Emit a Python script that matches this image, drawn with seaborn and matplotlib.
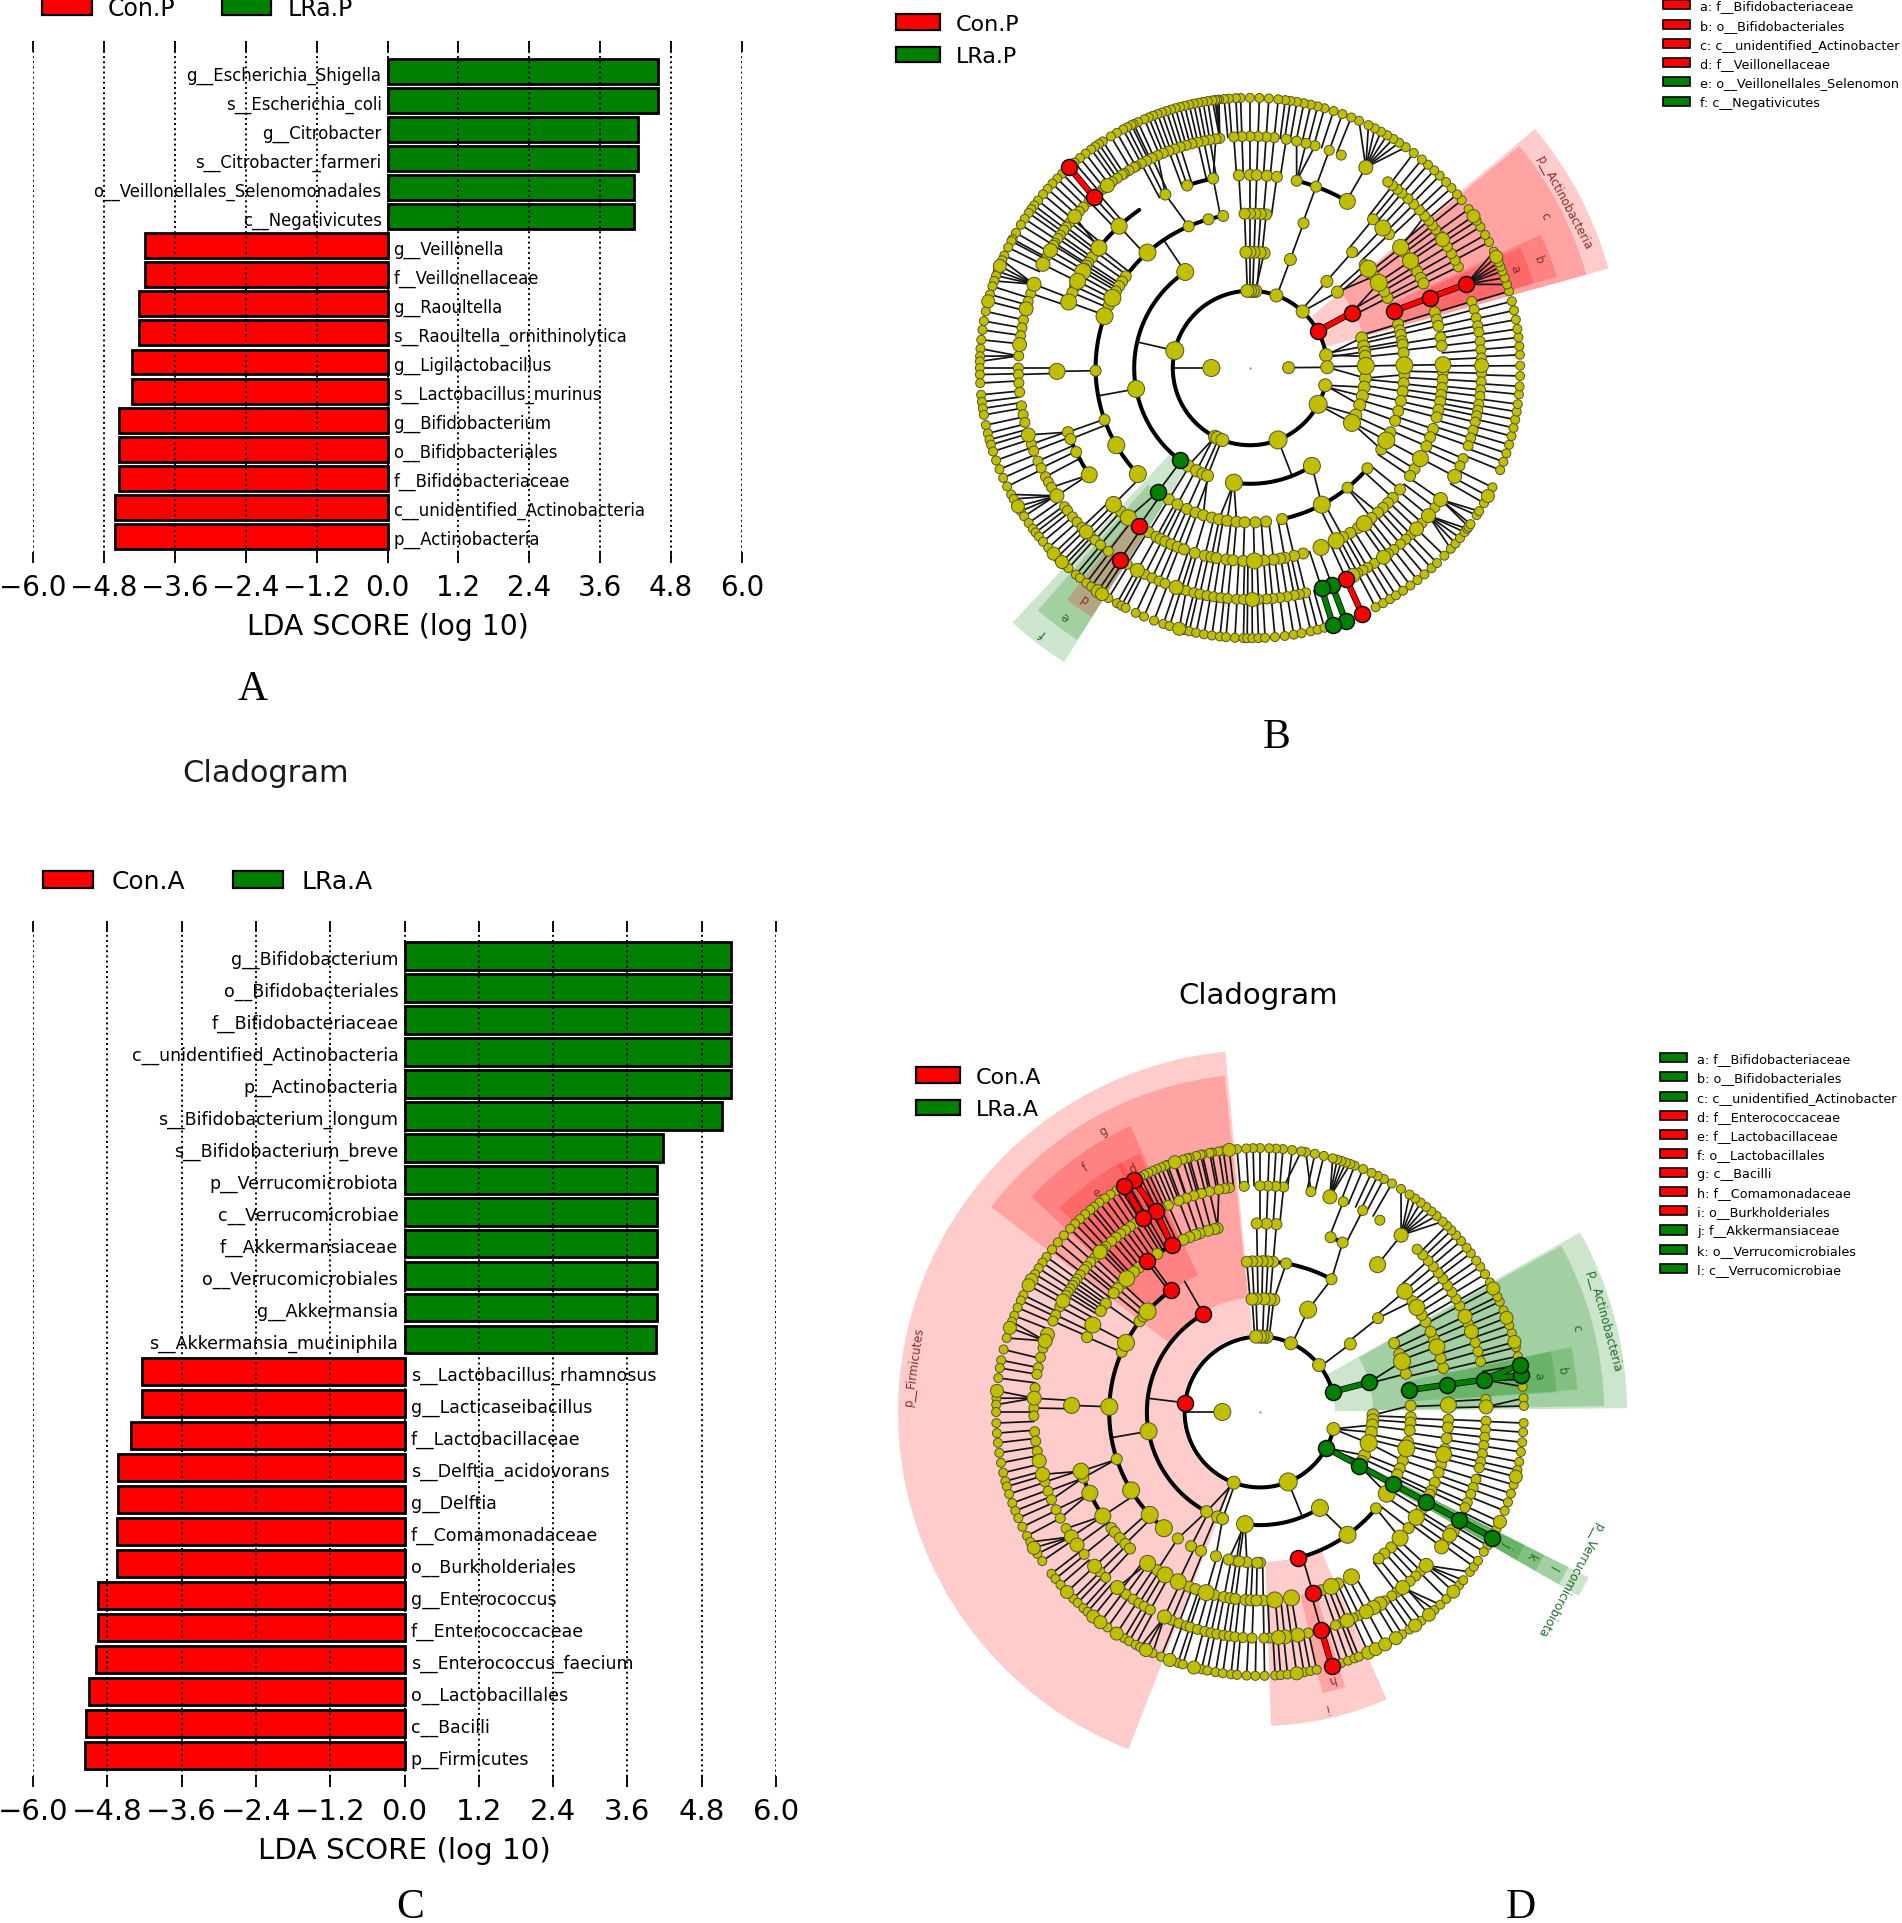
import numpy as np
import pandas as pd
import matplotlib
matplotlib.use("Agg")
import matplotlib.pyplot as plt
from matplotlib.patches import Patch
import seaborn as sns

W, H = 1902, 1924
RED = "#ff0000"
GREEN = "#008000"
NODE = "#bfbf00"

# panel A
a_taxa = ["g__Escherichia_Shigella", "s__Escherichia_coli", "g__Citrobacter", "s__Citrobacter_farmeri",
          "o__Veillonellales_Selenomonadales", "c__Negativicutes", "g__Veillonella", "f__Veillonellaceae",
          "g__Raoultella", "s__Raoultella_ornithinolytica", "g__Ligilactobacillus", "s__Lactobacillus_murinus",
          "g__Bifidobacterium", "o__Bifidobacteriales", "f__Bifidobacteriaceae",
          "c__unidentified_Actinobacteria", "p__Actinobacteria"]
a_scores = [4.57, 4.57, 4.24, 4.24, 4.18, 4.18, -4.10, -4.10, -4.21, -4.21, -4.32, -4.32,
            -4.54, -4.54, -4.54, -4.61, -4.61]

# panel C
c_taxa = ["g__Bifidobacterium", "o__Bifidobacteriales", "f__Bifidobacteriaceae",
          "c__unidentified_Actinobacteria", "p__Actinobacteria", "s__Bifidobacterium_longum",
          "s__Bifidobacterium_breve", "p__Verrucomicrobiota", "c__Verrucomicrobiae", "f__Akkermansiaceae",
          "o__Verrucomicrobiales", "g__Akkermansia", "s__Akkermansia_muciniphila", "s__Lactobacillus_rhamnosus",
          "g__Lacticaseibacillus", "f__Lactobacillaceae", "s__Delftia_acidovorans", "g__Delftia",
          "f__Comamonadaceae", "o__Burkholderiales", "g__Enterococcus", "f__Enterococcaceae",
          "s__Enterococcus_faecium", "o__Lactobacillales", "c__Bacilli", "p__Firmicutes"]
c_scores = [5.28, 5.28, 5.28, 5.27, 5.27, 5.12, 4.18, 4.07, 4.07, 4.07, 4.07, 4.07, 4.06,
            -4.24, -4.24, -4.42, -4.63, -4.63, -4.65, -4.65, -4.95, -4.95, -4.98, -5.09, -5.14, -5.16]

x_ticks = [-6.0, -4.8, -3.6, -2.4, -1.2, 0.0, 1.2, 2.4, 3.6, 4.8, 6.0]

# legends of the cladograms
b_legend = ["a: f__Bifidobacteriaceae", "b: o__Bifidobacteriales", "c: c__unidentified_Actinobacter",
            "d: f__Veillonellaceae", "e: o__Veillonellales_Selenomon", "f: c__Negativicutes"]
b_legend_colors = [RED, RED, RED, RED, GREEN, GREEN]
d_legend = ["a: f__Bifidobacteriaceae", "b: o__Bifidobacteriales", "c: c__unidentified_Actinobacter",
            "d: f__Enterococcaceae", "e: f__Lactobacillaceae", "f: o__Lactobacillales", "g: c__Bacilli",
            "h: f__Comamonadaceae", "i: o__Burkholderiales", "j: f__Akkermansiaceae",
            "k: o__Verrucomicrobiales", "l: c__Verrucomicrobiae"]
d_legend_colors = [GREEN, GREEN, GREEN, RED, RED, RED, RED, RED, RED, GREEN, GREEN, GREEN]

# cladogram B, node angles (degrees) read per ring, *_big are the larger circles
b_r1 = [0.5]
b_r1_big = [180]
b_r2 = [9.6, 0.6, -12.9, 47, 70, 86, 88, 90, 92, 243, 245, 249]
b_r2_big = [167, -28, -68.7]
b_r3 = [15.1, 10.8, 8, 5.8, -5, -9.5, -14, -18.6, -24, 48.4, 41, 69.6, 83, 85, 88, 90, 92, 237.7, 242.5, 246, 248.5]
b_r3_big = [1, -28.3, -57.7, 124, 190.4, 262]
b_r4 = [16.5, 14.1, 12.4, 10, 8.7, 5.6, -2.5, -5.6, -8.7, -12.3, -16.2, -20, -24.6, -31.8, -40.5, 27, 29.7, 36.5,
        42, 48.6, 69.7, 84, 86, 88, 90, 92, 100, 105.6, 113.4, 143.6, 146, 148, 150.3, 156, 199.6, 181, -50.8, -78,
        -84, -88, 238.3, 242, 245.9, 249.4, 252.4, 255.7, 258.4, 261.5, 265, 268]
b_r4_big = [1, -28, 33.5, 40, 131.6, 153, 160.4, 210, 223.4, -62.3]
b_r5 = [16.8, 14.5, 12.6, 9.1, 6.6, -1.2, -3.5, -5.9, -8, -10, -12.5, -14.8, -18.4, -21, -23.9, -31.5, -34, -39,
        -42.3, -44.4, -46.5, -48.5, -51, -56, -58.7, -61.2, -74, -76.8, -79.6, -81, -83, -85.8, 50.4, 43.9, 37,
        31.7, 30, 27.8, 26, 93.3, 90, 88, 85, 82, 76, 70, 101, 109, 116, 143, 145, 147, 148, 149, 151.5, 155, 157,
        199.4, 201.6, 205.8, 228, 238.3, 241, 242.4, 244, 246, 248, 250, 253.4, 256.5, 258.5, 260, 263, 265, 268]
b_r5_big = [1, -28, -53.7, -63.5, -68.4, -88.7, 46.5, 38.7, 33.7, 59.7, 132.7, 141.5, 150, 153.3, 160, 181, 213.6,
            225, 230.9]
b_r6 = [16.7, 14.6, 12.5, 10.5, 8.9, 6.6, 4.5, 2.5, -1.3, -3.4, -5.4, -7, -9, -10.5, -11.9, -13.5, -15.6, -17.6,
        -19.6, -23, -25, -37, -42, -46, -47.7, -49.5, -51.6, -53.3, -57.5, -59.5, -60.8, -62.3, -76.1, -77.7, -79,
        -80.8, -82.6, -84.4, -85.9, -87.9, -90.6, 25.9, 27.7, 29.6, 31.6, 35, 36.7, 38, 39.5, 41, 43, 45, 47, 49,
        50.5, 52, 53.5, 66.8, 70, 73.7, 76, 78.4, 81, 84, 86, 88, 90, 92, 94, 97.5, 98.5, 100, 101.5, 103, 104.5, 106,
        107.5, 109, 110.5, 112, 113.5, 115, 116.5, 118, 119.5, 120, 121.5, 122.9, 123.5, 125, 126.5, 129.5, 131, 134,
        136, 137.5, 140, 141, 142.5, 143.5, 145, 146, 147.4, 148, 151, 161.2, 163.3, 168, 170, 172, 177, 180, 181.6,
        183.7, 186, 189.4, 191.6, 193.6, 199.2, 201, 203.7, 205.6, 208, 209.5, 211, 216.8, 218, 220, 221.7, 223.5,
        226.5, 228, 229.8, 232.3, 238, 243, 245, 246.9, 248.5, 252.8, 254, 256, 257.5, 259.3, 261, 262.8, 264.5,
        266.7, 268.4]
b_r6_big = [0.6, -27.9, -34.6, -39.6, -44, -54.8, -63.6, -89.4, 33.7, 60, 128, 139.2, 149.5, 153.4, 158.8, 165.2,
            174.2, 196.8, 213.5, 225, 240.9, 251.4]
b_r7 = [14.3, 16.5, 18, 19.5, 21, 22, 23, 25.5, 27.8, 29.5, 31.5, 33, 36, 38.4, 40, 41.8, 43.5, 45.4, 47, 48.8, 50.5,
        52.7, 54.8, 56.5, 58, 59.5, 61, 62.5, 64, 66.2, 68, 70, 72, 74, 75.5, 77, 78.5, 80, 81.4, 82.5, 84, 86, 88,
        90, 92, 93, 94.5, 95.5, 96.6, 97, 97.4, 98, 99, 100, 101, 102, 103, 104, 105, 106, 107, 108, 109, 110, 111,
        112, 113, 114.5, 115.5, 116, 117, 118, 119.5, 121, 123, 124, 125, 126, 127.5, 129, 130.5, 134, 135.5, 137,
        138.5, 140, 141.7, 143, 144, 145, 146.5, 148, 150, 151.5, 152, 153.5, 155.4, 156.5, 159, 160, 161.2, 162.4,
        164.2, 167.9, 170, 171.9, 174, 175.9, 177.5, 178.6, 180, 181.4, 183.2, 185.7, 187.2, 188.6, 190, 192.2, 194,
        195.4, 196.5, 198, 200, 202, 204, 206, 207.9, 209, 212, 213.3, 215, 216.5, 217.5, 218.6, 220, 221.7, 224.5,
        226.8, 227.8, 229.9, 231, 232.7, 234, 238.4, 240.5, 241.6, 242.6, 245, 246.9, 249.2, 251.3, 252.7, 256, 257,
        258.5, 260.2, 261.9, 263.6, 264.9, 266.8, 268.6, 269.4, 270.5, 271.8, 273.2, 275.3, 277.4, 279.3, 281, 283,
        284.5, 286, -62.3, -60.5, -58.8, -57.3, -55.5, -53.6, -51.7, -49.8, -47.8, -46.2, -44, -42, -40.5, -39, -37.4,
        -36.5, -36, -35.3, -33, -32, -30, -26.2, -22.2, -20.3, -18.4, -16.5, -14.6, -12.8, -11, -9.3, -7.7, -5.6,
        -3.9, -1.7, 0.5, 2.8, 4.6, 6.5, 8.3, 10.3, 12.3]
b_r7_big = [24.3, 34.2, 157.8, 165.7, 210.8, 223.4, 225.9, 235.7, 236.8, 254.8, -28.3]

# cladogram B, coloured clades
b_marked = [(2, 28.6, RED), (3, 28.5, RED), (4, 21.6, RED), (5, 21.4, RED), (6, 21.2, RED),
            (3, 232.6, GREEN), (4, 233.4, GREEN), (5, 234.9, RED), (6, 235.9, RED),
            (6, 132.4, RED), (7, 132, RED), (6, -65.5, RED), (7, -65.5, RED),
            (6, -69.3, GREEN), (7, -69.3, GREEN), (6, -72, GREEN), (7, -72.1, GREEN)]
b_thick = [(2, 28.6, 3, 28.5, RED), (4, 21.6, 5, 21.4, RED), (5, 21.4, 6, 21.2, RED), (6, 132.4, 7, 132, RED),
           (6, -65.5, 7, -65.5, RED), (6, -69.3, 7, -69.3, GREEN), (6, -72, 7, -72.1, GREEN)]
b_arcs = [(2, 9.6, 92), (2, 92, 243), (2, -111, -13), (3, 124, 232.6), (3, -98, -57.7), (4, 100, 223.4),
          (4, -78, -40.5), (5, 125, 141.5), (5, 201.6, 213.6), (5, 100, 110), (5, 60, 76)]
b_spokes = [(1, 180), (2, 167), (3, 124), (3, 190.4), (2, -68.7)]
# ring 6 parent angle and the span of its ring 7 children
b_fans = [(21.2, 17, 25.5), (60, 54.5, 66.5), (177, 175.5, 178.9), (158.8, 155.5, 161.5), (168, 166.5, 169.5),
          (213.5, 207.5, 212.5), (-39.6, -42.5, -36.2), (-34.6, -36, -32), (97.5, 96, 98.2), (254, 252.8, 255.5)]
# (inner radius, outer radius, from angle, to angle, colour)
b_wedges = [(80, 372, 15.5, 40, RED), (118, 349, 15.5, 39.5, RED), (155, 320, 16.6, 24.6, RED),
            (193, 296, 16.6, 24, RED),
            (118, 348, 227, 237.7, GREEN), (155, 322, 228.8, 237.6, GREEN), (193, 295, 231.7, 237.6, RED)]
b_labels = [("p__Actinobacteria", 355, 27.9, -62, RED), ("c", 332, 27.4, -62, RED), ("b", 308, 20.7, -69, RED),
            ("a", 283, 20.7, -69, RED), ("d", 283, 234.3, 144, RED), ("e", 309, 233.2, 143, GREEN),
            ("f", 336, 232, 142, GREEN)]

# cladogram D
d_r1 = []
d_r1_big = [180]
d_r2 = [-13, 38.5, 65.8, 85, 88, 90, 93, 249.6]
d_r2_big = [-68]
d_r3 = [-1.5, -4, -6.6, -10.3, -22.5, -26, 37, 83, 85, 88, 92, 94, 241.8, 248, 250.7]
d_r3_big = [-16, 64.8, 189.8, -58, 262.4]
d_r4 = [2.4, -2, -4, -7, -11.4, -18.8, -22, -24.5, 14.7, 22.6, 27.2, 38.5, 61.7, 80, 85, 87, 89, 91, 93, 95, 143,
        140.7, 156.5, 198.2, -90, 265, 261, 237, 242.8, 247, 253, 258, 262, 269, -39.7]
d_r4_big = [-14, -32.8, 19.6, 152.7, 138.2, 178, 211.3, 223, 230.4, -54.5]
d_r5 = [-2.4, -4.7, -8, -11.4, -16, -18.7, -22, -24.7, -26, -31, -38, -45.9, -48.7, -51, -65.5, -71, -89, 13.5, 16.5,
        22.7, 25.2, 28.6, 31, 36, 64, 68, 85, 88, 91, 103, 104, 106, 108.7, 110, 112, 114, 123, 130, 132, 137, 139,
        140.9, 144.9, 147.6, 156.6, 200.4, 218, 219.6, 222, 224.4, 226.4, 237, 247.9, 250, 255.9, 259, 261, 262.5,
        265.6, 267.2, 268.9]
d_r5_big = [2.1, -13, -34, -42, -61, -67.8, -80.4, -85.5, 20.2, 33.7, 39.8, 51.4, 135, 152.5, 178, 198.3, 205.5,
            213.5, 233.4, 239.8, 244.3, 253.4]
d_r6 = [-2.3, -4.4, -6.4, -8.5, -10.6, -12.7, -14.3, -17.3, -19.5, -21.3, -23.6, -25, -35, 3.2, 12.9, 15.5, 17.9, 23,
        28, 30, 32, 34, 36, 38, 40, 42, 44, 46, 58, 63, 68.4, 77, 84, 86, 88, 90, 94, 97.8, 99, 100.5, 102.9, 105, 107,
        109, 111, 113.9, 116, 118.5, 120, 122, 123.5, 125, 126.5, 128, 129.5, 131, 133, 134, 137, 138.5, 140, 141,
        142.7, 144, 145, 146, 147, 148, 149, 152.3, 154.6, 156.3, 163.6, 166, 168.7, 170.4, 173.9, 179, 181, 185,
        187.4, 190, 198, 200.5, 202.8, 205.6, 208, 211, 219, 225, 227, 232, 233.7, 235.9, 237.7, 239.2, 241, 247,
        249, 251, 252, 254, 255.9, 257.5, 259, 260.8, 262.2, 263.7, 265.7, 268, -44.7, -46.5, -48.4, -52.9, -54.4,
        -56.6, -64, -65.7, -68.8, -70.5, -77.7, -82, -87.6, -89]
d_r6_big = [1.3, -31.8, -33, -36.6, 20.8, 25, 51.4, 72, 135, 150.6, 160, 161.7, 176.5, 192.5, 196, 213.5, 216, 223,
            230.9, 245, -42.7, -50.9, -58, -59.9, -62, -67.3, -80.4, -83.7, -85.3]
d_r7 = [-2.4, -4.4, -6.6, -8.7, -10.9, -12.7, -16, -18, -20, -22, -26.3, -30.4, -32, 3, 1.3, 5.5, 7, 12.2, 14.2, 17.4,
        19.2, 22.6, 24.7, 25.9, 29.4, 31.5, 33.4, 35, 37, 38.5, 40.4, 42, 43.5, 44.9, 46.2, 48, 49.5, 51, 52.5, 54,
        55.5, 57.7, 60, 62, 63.5, 65, 67, 69, 70, 71, 72, 73, 74, 76, 78, 80, 81, 83, 85, 86.5, 88, 90, 91.5, 93, 95,
        98, 99, 100.5, 101, 102.6, 103, 104, 105.5, 106, 107, 109, 110.5, 111, 112, 113, 114, 115, 116, 117, 120, 122,
        123, 124.5, 126, 127.5, 129, 130, 131.5, 133, 134.5, 136, 138, 140, 142, 144, 145.5, 147, 148.5, 153.7, 155,
        156.7, 158.6, 160, 163.7, 166.3, 168.7, 170.4, 172.6, 177, 178.4, 180, 182.4, 184.6, 186.7, 188.9, 191.1,
        193.3, 195.2, 196.4, 198.1, 200.2, 202, 203.7, 205.8, 208, 209.5, 212.5, 214.4, 217.8, 219.2, 220.9, 225,
        226.3, 228, 229.2, 234.7, 239, 240.3, 241.9, 243, 246, 248, 251.9, 253, 257.2, 258.5, 260.3, 261.9, 263.7,
        265, 267.1, 269, 271, 273.3, 274.5, 276, 279.6, 281, 282.4, -72.1, -70.5, -69, -68, -57.4, -55.5, -52.3, -48.6,
        -46.9, -45.1, -41, -39.6, -37.3, -35.9, -34.3]
d_r7_big = [-14.2, -24.6, 15.4, 20.9, 27.9, 96.7, 108.8, 150, 151.3, 161.4, 175.4, 211, 223, 230.8, 232.8, 237.1,
            244.4, 250, 255.5, 278, -65.8, -64, -61.7, -59, -54, -50.2, -42.9]

d_marked = [(2, 15.5, GREEN), (3, 15.2, GREEN), (4, 8.4, GREEN), (5, 8.3, GREEN), (6, 8.2, GREEN), (7, 8, GREEN),
            (7, 10.3, GREEN), (2, -28.4, GREEN), (3, -28.4, GREEN), (4, -28.4, GREEN), (5, -28.4, GREEN),
            (6, -28.4, GREEN), (7, -28.4, GREEN), (2, 173, RED), (3, 120, RED), (4, 126, RED), (5, 127, RED),
            (5, 117.8, RED), (6, 117.4, RED), (6, 121, RED), (7, 118.6, RED), (7, 121, RED), (4, -75.4, RED),
            (5, -73.7, RED), (6, -74.3, RED), (7, -74.2, RED)]
d_thick = [(2, 15.5, 3, 15.2, GREEN), (4, 8.4, 5, 8.3, GREEN), (5, 8.3, 6, 8.2, GREEN), (6, 8.2, 7, 10.3, GREEN),
           (6, 8.2, 7, 8, GREEN), (2, -28.4, 3, -28.4, GREEN), (3, -28.4, 4, -28.4, GREEN),
           (4, -28.4, 5, -28.4, GREEN), (5, -28.4, 6, -28.4, GREEN), (6, -28.4, 7, -28.4, GREEN),
           (5, 117.8, 6, 117.4, RED), (6, 117.4, 7, 118.6, RED), (6, 121, 7, 121, RED), (6, -74.3, 7, -74.2, RED)]
d_arcs = [(2, 15.5, 93), (2, 93, 249.6), (2, -110.4, -13), (3, 120, 241.8), (3, -97.6, -58), (4, 126, 230.4),
          (4, 62, 95), (4, -75.4, -39.7), (5, 117.8, 135), (5, 198.3, 226.4), (5, 64, 68)]
d_spokes = [(1, 180), (2, 173), (3, 120), (3, 189.8), (2, -68), (4, 126)]
d_fans = [(51.4, 45.5, 58), (72, 70, 74), (176.5, 175, 178.5), (1.3, 0, 3.2), (161.7, 159, 164), (213.5, 209, 214),
          (245, 243, 246.5), (8.2, 5, 7.5), (-42.7, -41.5, -37), (-50.9, -49, -46)]
d_wedges = [(78, 362, 95.5, 248.7, RED), (115, 338, 96, 142.7, RED), (150, 314, 114.4, 136.7, RED),
            (188, 286, 119, 134.5, RED), (188, 285, 115, 120, RED),
            (150, 314, -88, -66.2, RED), (188, 288, -77.5, -72.8, RED),
            (75, 367, 0.6, 29.3, GREEN), (113, 344, 1, 28.9, GREEN), (150, 318, 4, 11.8, GREEN),
            (188, 297, 3.8, 11.7, GREEN),
            (75, 368, -30, -26.7, GREEN), (113, 345, -30, -26.7, GREEN), (150, 318, -30, -26.7, GREEN),
            (188, 296, -30, -26.7, GREEN)]
d_labels = [("p__Firmicutes", 349, 172.3, 82, RED), ("g", 322, 119, 29, RED), ("f", 301, 125.5, 35, RED),
            ("e", 274, 126.5, 36, RED), ("d", 275, 117.5, 27, RED), ("i", 302, -77.4, -167, RED),
            ("h", 276, -75, -165, RED), ("p__Actinobacteria", 356, 14.8, -75, GREEN), ("c", 328, 15, -75, GREEN),
            ("b", 305, 7.9, -82, GREEN), ("a", 281, 7.6, -82, GREEN), ("p__Verrucomicrobiota", 352, -28.3, -118, GREEN),
            ("l", 331, -28, -118, GREEN), ("k", 306, -28, -118, GREEN), ("j", 280, -28, -118, GREEN)]

sns.set_theme(style="white")
plt.rcParams["font.family"] = ["DejaVu Sans"]
plt.rcParams["text.color"] = "black"
plt.rcParams["axes.labelcolor"] = "black"

fig = plt.figure(figsize=(W / 100, H / 100), dpi=100)
fig.patch.set_facecolor("white")


def px_axes(left, top, right, bottom, **kw):
    return fig.add_axes([left / W, 1 - bottom / H, (right - left) / W, (bottom - top) / H], **kw)


def add_legend(labels, colors, x, y, size, ncol=1, hlen=2.1, hheight=0.7, pad=0.7, colsp=2.0, lspace=0.4, lw=1.6):
    handles = [Patch(facecolor=c, edgecolor="black", linewidth=lw) for c in colors]
    return fig.legend(handles, labels, loc="center left", bbox_to_anchor=(x / W, 1 - y / H), ncol=ncol,
                      frameon=False, fontsize=size, handlelength=hlen, handleheight=hheight, handletextpad=pad,
                      columnspacing=colsp, labelspacing=lspace, borderpad=0, borderaxespad=0)


def lda_panel(taxa, scores, box, first_y, step, label_size, tick_size, xlabel_size, groups):
    left, top, right, bottom = box
    ax = px_axes(left, top, right, bottom)
    df = pd.DataFrame({"taxon": taxa, "score": scores})
    df["group"] = np.where(df["score"] < 0, groups[0], groups[1])
    sns.barplot(data=df, x="score", y="taxon", hue="group", order=taxa, hue_order=groups,
                palette=[RED, GREEN], dodge=False, width=0.86, saturation=1, edgecolor="black", linewidth=2,
                legend=False, ax=ax)
    ax.set_xlim(-6, 6)
    ax.set_ylim((bottom - first_y) / step, (top - first_y) / step)
    ax.set_xticks(x_ticks)
    ax.set_yticks([])
    ax.set_ylabel("")
    ax.set_xlabel("LDA SCORE (log 10)", fontsize=xlabel_size, labelpad=8)
    ax.tick_params(axis="x", direction="in", top=True, bottom=True, length=8, width=1.3, color="black",
                   labelsize=tick_size, pad=7, labelcolor="black")
    ax.set_axisbelow(False)
    ax.grid(axis="x", linestyle=":", color="black", linewidth=1.4)
    ax.grid(axis="y", visible=False)
    for sp in ax.spines.values():
        sp.set_visible(False)
    ax.patch.set_alpha(0)
    for i, (name, val) in enumerate(zip(taxa, scores)):
        ax.text(-0.1 if val > 0 else 0.1, i + 0.1, name, ha="right" if val > 0 else "left", va="center",
                fontsize=label_size, color="black", zorder=6)
    return ax


def nearest(angle, others):
    diff = np.abs((np.asarray(others) - angle + 180) % 360 - 180)
    i = int(np.argmin(diff))
    return others[i], diff[i]


def in_span(ang, a0, a1):
    return ((ang - a0) % 360) <= ((a1 - a0) % 360)


def cladogram(cx, cy, step, rings, bigs, marked, thick, arcs, spokes, fans, wedges, labels):
    rmax = 385
    ax = px_axes(cx - rmax, cy - rmax, cx + rmax, cy + rmax, projection="polar")
    for r0, r1, a0, a1, col in wedges:
        ax.bar(np.radians((a0 + a1) / 2), r1 - r0, width=np.radians(a1 - a0), bottom=r0, color=col, alpha=0.2,
               linewidth=0, zorder=1)

    # taxon angles per ring, a child hangs from the closest node one ring in
    tol = {3: 8, 4: 5, 5: 2.6, 6: 2.6, 7: 8}
    all_nodes = {}
    for k in range(1, 8):
        all_nodes[k] = list(rings[k]) + list(bigs[k]) + [m[1] for m in marked if m[0] == k]
    edge = dict(color="#141414", lw=1.25, zorder=2)
    for k in range(3, 8):
        for ang in all_nodes[k]:
            parent, dist = nearest(ang, all_nodes[k - 1])
            if k == 7:
                fan = [f[0] for f in fans if in_span(ang, f[1], f[2])]
                if fan:
                    ax.plot(np.radians([ang, fan[0]]), [k * step, (k - 1) * step], **edge)
                    continue
            if dist <= 2.2:
                ax.plot(np.radians([ang, ang]), [k * step, (k - 1) * step], **edge)
            elif dist <= tol[k]:
                ax.plot(np.radians([ang, parent]), [k * step, (k - 1) * step], **edge)
    for k, ang in spokes:
        ax.plot(np.radians([ang, ang]), [k * step, (k + 1) * step], **edge)
    for ang in rings[1]:
        ax.plot(np.radians([ang, ang]), [step, 2 * step], **edge)

    for k, a0, a1 in arcs:
        th = np.radians(np.linspace(a0, a1, 80))
        ax.plot(th, np.full_like(th, k * step), color="black", lw=2.9, zorder=3, solid_capstyle="round")
    for k0, a0, k1, a1, col in thick:
        ax.plot(np.radians([a0, a1]), [k0 * step, k1 * step], color="black", lw=4.6, zorder=3.2)
        ax.plot(np.radians([a0, a1]), [k0 * step, k1 * step], color=col, lw=3.6, zorder=3.3)

    small_d = {1: 12, 2: 13, 3: 12, 4: 11, 5: 11, 6: 10, 7: 9}
    big_d = {1: 17, 2: 18, 3: 17, 4: 17, 5: 16, 6: 14, 7: 13}
    rows = []
    for k in range(7, 0, -1):
        rows += [(np.radians(a), k * step, (small_d[k] * 0.72) ** 2) for a in rings[k]]
        rows += [(np.radians(a), k * step, (big_d[k] * 0.72) ** 2) for a in bigs[k]]
    df = pd.DataFrame(rows, columns=["theta", "r", "area"])
    sns.scatterplot(data=df, x="theta", y="r", s=df["area"].values, color=NODE, edgecolor="#55552a", linewidth=0.7,
                    legend=False, zorder=4, ax=ax)
    for col in (RED, GREEN):
        pts = pd.DataFrame([(np.radians(a), k * step) for k, a, c in marked if c == col], columns=["theta", "r"])
        sns.scatterplot(data=pts, x="theta", y="r", s=(16 * 0.72) ** 2, color=col, edgecolor="#101010", linewidth=1.1,
                        legend=False, zorder=5, ax=ax)
    # tiny root dot
    ax.scatter([0], [0], s=3, color="#999966", linewidth=0, zorder=5)

    for txt, r, ang, rot, col in labels:
        tcol = "#8a2a2a" if col == RED else "#1f6a2a"
        ax.text(np.radians(ang), r, txt, rotation=rot, ha="center", va="center", rotation_mode="anchor",
                fontsize=8.5, color=tcol, zorder=6)
    ax.set_rlim(0, rmax)
    ax.set_axis_off()
    return ax


lda_panel(a_taxa, a_scores, (33, 42, 742, 564), 72.5, 29.05, 11.9, 20, 20.3, ["Con.P", "LRa.P"])
lda_panel(c_taxa, c_scores, (33, 922, 776, 1788), 957, 31.97, 12.5, 21, 21.2, ["Con.A", "LRa.A"])

cladogram(1250, 369, 38.6,
          {1: b_r1, 2: b_r2, 3: b_r3, 4: b_r4, 5: b_r5, 6: b_r6, 7: b_r7},
          {1: b_r1_big, 2: b_r2_big, 3: b_r3_big, 4: b_r4_big, 5: b_r5_big, 6: b_r6_big, 7: b_r7_big},
          b_marked, b_thick, b_arcs, b_spokes, b_fans, b_wedges, b_labels)
cladogram(1260, 1413, 37.7,
          {1: d_r1, 2: d_r2, 3: d_r3, 4: d_r4, 5: d_r5, 6: d_r6, 7: d_r7},
          {1: d_r1_big, 2: d_r2_big, 3: d_r3_big, 4: d_r4_big, 5: d_r5_big, 6: d_r6_big, 7: d_r7_big},
          d_marked, d_thick, d_arcs, d_spokes, d_fans, d_wedges, d_labels)

add_legend(["Con.P", "LRa.P"], [RED, GREEN], 42, 9, 17, ncol=2, colsp=1.95)
add_legend(["Con.A", "LRa.A"], [RED, GREEN], 43, 882, 18, ncol=2, hlen=2.0, pad=0.73, colsp=1.92)
add_legend(["Con.P", "LRa.P"], [RED, GREEN], 896, 41, 16, lspace=0.55, hlen=2.0)
add_legend(["Con.A", "LRa.A"], [RED, GREEN], 916, 1094, 16, lspace=0.55, hlen=2.0)
add_legend(b_legend, b_legend_colors, 1663, 55, 9.2, hlen=2.15, hheight=0.72, pad=0.75, lspace=0.49, lw=1.2)
add_legend(d_legend, d_legend_colors, 1660, 1165, 9.2, hlen=2.15, hheight=0.72, pad=0.75, lspace=0.48, lw=1.2)

fig.text(266 / W, 1 - 774 / H, "Cladogram", ha="center", va="center", fontsize=22, color="#1a1a1a")
fig.text(1258 / W, 1 - 996 / H, "Cladogram", ha="center", va="center", fontsize=21, color="black")

for letter, x, y in [("A", 253, 690), ("B", 1277, 738), ("C", 410, 1908), ("D", 1521, 1908)]:
    fig.text(x / W, 1 - y / H, letter, ha="center", va="center", fontsize=30, family="Liberation Serif", color="black")

fig.savefig("out.png", dpi=100)
